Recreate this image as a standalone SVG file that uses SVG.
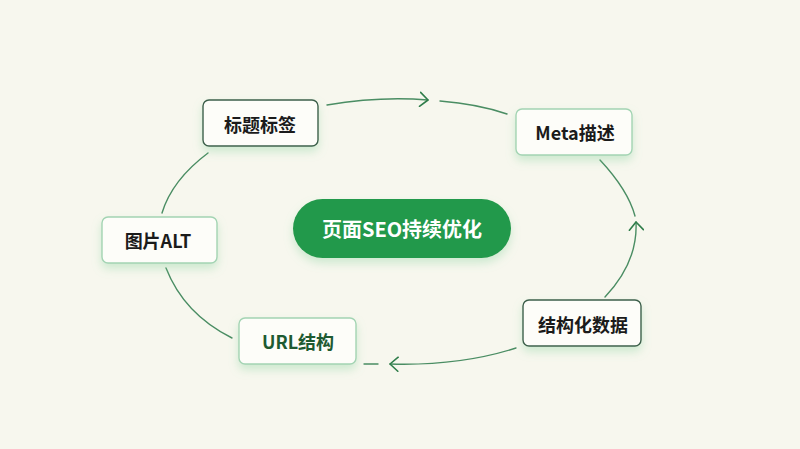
<svg xmlns="http://www.w3.org/2000/svg" width="800" height="449" viewBox="0 0 800 449">
<style>
.box{fill:#fdfdf9;stroke-width:1.4}
.light{stroke:#a3d4b3}
.dark{stroke:#3d5f4b}
.lbl{font-family:"Noto Sans CJK SC","Noto Sans",sans-serif;font-weight:700;font-size:18px;fill:#1b1b1b;text-anchor:middle;dominant-baseline:central}
.conn{fill:none;stroke:#4a8d63;stroke-width:1.4;stroke-linecap:round}
</style>
<defs>
<filter id="glow" x="-30%" y="-30%" width="160%" height="180%">
<feDropShadow dx="0" dy="5" stdDeviation="5" flood-color="#7ccf95" flood-opacity="0.35"/>
</filter>
<marker id="arr" markerUnits="userSpaceOnUse" markerWidth="14" markerHeight="16" refX="9" refY="8" orient="auto">
<path d="M1,1 L9,8 L1,15" fill="none" stroke="#2f7d4a" stroke-width="1.6" stroke-linecap="round" stroke-linejoin="round"/>
</marker>
</defs>
<rect width="800" height="449" fill="#f7f7ee"/>
<g id="connectors">
<path class="conn" d="M327,105 Q380,96 428,100" marker-end="url(#arr)"/>
<path class="conn" d="M440,101 Q478,104 507,114"/>
<path class="conn" d="M600,160 Q628,190 635,216"/>
<path class="conn" d="M605,297 Q638,262 636,222" marker-end="url(#arr)"/>
<path class="conn" d="M516,348 Q460,366 390,364" marker-end="url(#arr)"/>
<path class="conn" d="M364,364 L378,364"/>
<path class="conn" d="M208,153 Q172,180 162,213"/>
<path class="conn" d="M166,268 Q184,314 232,338"/>
</g>
<g id="node-title">
<rect class="box dark" x="203" y="100" width="115" height="46" rx="6" filter="url(#glow)"/>
<text class="lbl" x="260" y="124">标题标签</text>
</g>
<g id="node-meta">
<rect class="box light" x="516" y="109" width="116" height="46" rx="6" filter="url(#glow)"/>
<text class="lbl" x="575" y="132">Meta描述</text>
</g>
<g id="node-alt">
<rect class="box light" x="102" y="217" width="115" height="46" rx="6" filter="url(#glow)"/>
<text class="lbl" x="158" y="240">图片ALT</text>
</g>
<g id="node-center">
<rect x="293" y="199" width="218" height="59" rx="29.5" fill="#23994b" filter="url(#glow)"/>
<text class="lbl" x="402" y="228" style="fill:#ffffff;font-size:20px">页面SEO持续优化</text>
</g>
<g id="node-url">
<rect class="box light" x="239" y="318" width="117" height="46" rx="6" filter="url(#glow)"/>
<text class="lbl" x="298" y="341" style="fill:#1e5a31">URL结构</text>
</g>
<g id="node-schema">
<rect class="box dark" x="523" y="300" width="118" height="46" rx="6" filter="url(#glow)"/>
<text class="lbl" x="583" y="324">结构化数据</text>
</g>
</svg>
